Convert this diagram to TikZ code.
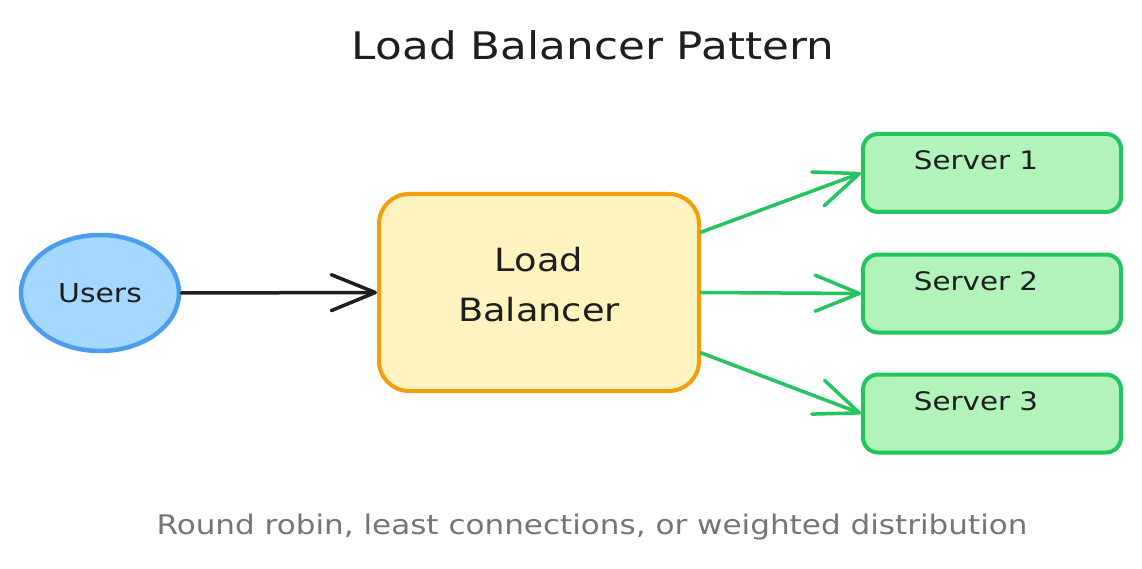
\documentclass[tikz,border=0pt]{standalone}
\usepackage{fontspec}
\setmainfont[FakeStretch=1.15]{DejaVu Sans}
\usetikzlibrary{arrows.meta,calc,shapes.geometric}
\definecolor{ink}{HTML}{1E1E1E}
\definecolor{usrfill}{HTML}{A5D8FF}
\definecolor{usrline}{HTML}{4A9EED}
\definecolor{lbfill}{HTML}{FFF3BF}
\definecolor{lbline}{HTML}{F59E0B}
\definecolor{srvfill}{HTML}{B2F2BB}
\definecolor{srvline}{HTML}{22C55E}
\definecolor{note}{HTML}{757575}
\tikzset{
  srvbox/.style={draw=srvline, fill=srvfill, line width=4pt, rounded corners=15pt,
    minimum width=258pt, minimum height=78pt, inner sep=0pt},
  srvtext/.style={text=ink, font=\fontsize{25.5}{30}\selectfont, inner sep=0pt, anchor=center},
  conn/.style={line width=3.5pt, line cap=round, -{Straight Barb[length=44pt,width=36pt,line width=3.5pt,round]}},
}
\begin{document}
\begin{tikzpicture}[x=1pt,y=-1pt]
\useasboundingbox (0,0) rectangle (1142,569);
\fill[white] (0,0) rectangle (1142,569);
\node[text=ink, font=\fontsize{38}{44}\selectfont, inner sep=0pt] (title) at (593,45) {Load Balancer Pattern};
\node[ellipse, draw=usrline, fill=usrfill, line width=4.5pt, minimum width=158pt, minimum height=116pt, inner sep=0pt,
  text=ink, font=\fontsize{26}{30}\selectfont] (users) at (100,293) {Users};
\node[draw=lbline, fill=lbfill, line width=4pt, rounded corners=30pt, minimum width=320pt, minimum height=197pt, inner sep=0pt] (lb) at (539,292.5) {};
\node[text=ink, font=\fontsize{32}{50}\selectfont, align=center, inner sep=0pt] (lbtext) at (539,285) {Load\\Balancer};
\node[srvbox] (s1) at (992,173) {};
\node[srvbox] (s2) at (992,293.5) {};
\node[srvbox] (s3) at (992,413.5) {};
\node[srvtext] (t1) at (976,160) {Server 1};
\node[srvtext] (t2) at (976,281) {Server 2};
\node[srvtext] (t3) at (976,401) {Server 3};
\draw[conn, draw=ink] (users.east) -- (lb.west);
\draw[conn, draw=srvline] ($(lb.north east)!0.2!(lb.south east)$) -- (s1.west);
\draw[conn, draw=srvline] (lb.east) -- (s2.west);
\draw[conn, draw=srvline] ($(lb.north east)!0.8!(lb.south east)$) -- (s3.west);
\node[text=note, font=\fontsize{27}{32}\selectfont, inner sep=0pt] (caption) at (592,527) {Round robin, least connections, or weighted distribution};
\end{tikzpicture}
\end{document}
